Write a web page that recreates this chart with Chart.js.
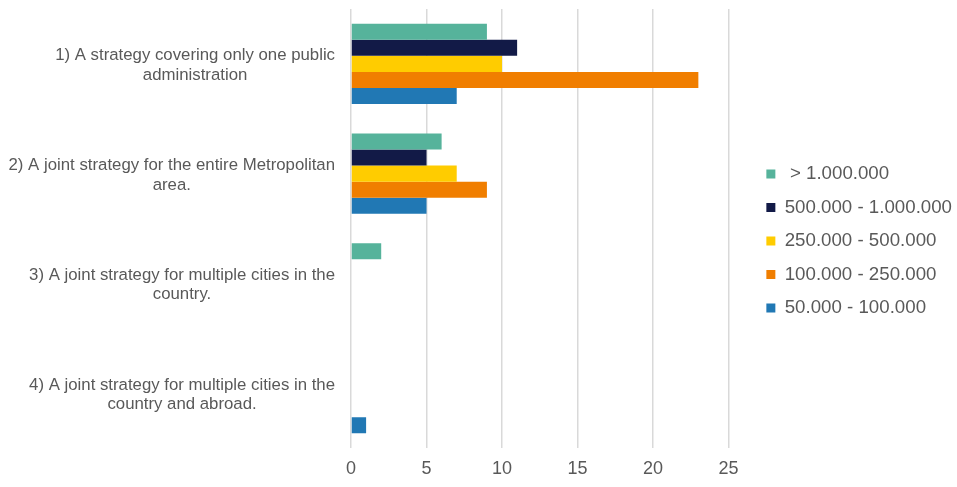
<!DOCTYPE html>
<html>
<head>
<meta charset="utf-8">
<script src="https://cdn.jsdelivr.net/npm/chart.js@4/dist/chart.umd.min.js"></script>
<style>
html,body{margin:0;padding:0;background:#fff;}
#wrap{width:957px;height:487px;position:relative;}
</style>
</head>
<body>
<div id="wrap"><canvas id="c" width="957" height="487"></canvas></div>
<script>
const categories = [
  ["1) A strategy covering only one public", "administration"],
  ["2) A joint strategy for the entire Metropolitan", "area."],
  ["3) A joint strategy for multiple cities in the", "country."],
  ["4) A joint strategy for multiple cities in the", "country and abroad."]
];
const seriesNames = [" > 1.000.000", "500.000 - 1.000.000", "250.000 - 500.000", "100.000 - 250.000", "50.000 - 100.000"];
const over1M      = [9, 6, 2, 0];
const from500k    = [11, 5, 0, 0];
const from250k    = [10, 7, 0, 0];
const from100k    = [23, 9, 0, 0];
const from50k     = [7, 5, 0, 1];
const seriesColors = ["#56B39B", "#121A47", "#FFCC00", "#F07E00", "#2178B4"];
const xTicks = [0, 5, 10, 15, 20, 25];

const seriesValues = [over1M, from500k, from250k, from100k, from50k];
const TEXT = "#595959";
const FONT = "'Liberation Sans', Arial, sans-serif";

const LEGEND_DX = 23, LEGEND_DY = -7;

const catLabelPlugin = {
  id: 'catLabels',
  afterLayout(chart) {
    const lg = chart.legend;
    if (lg) { lg.left += LEGEND_DX; lg.right += LEGEND_DX; lg.top += LEGEND_DY; lg.bottom += LEGEND_DY; }
  },
  afterDraw(chart) {
    const ys = chart.scales.y;
    const ctx = chart.ctx;
    ctx.save();
    ctx.font = "16.8px " + FONT;
    ctx.fillStyle = TEXT;
    ctx.textAlign = "center";
    ctx.textBaseline = "middle";
    const lh = 19.5;
    categories.forEach((lines, i) => {
      const y = ys.getPixelForTick(i) + 1.5;
      let widest = 0;
      lines.forEach(l => { widest = Math.max(widest, ctx.measureText(l).width); });
      const cx = ys.right - 16 - widest / 2;
      lines.forEach((l, j) => {
        ctx.fillText(l, cx, y + (j - (lines.length - 1) / 2) * lh);
      });
    });
    ctx.restore();
  }
};

new Chart(document.getElementById('c'), {
  type: 'bar',
  data: {
    labels: categories,
    datasets: seriesNames.map((n, i) => ({
      label: n,
      data: seriesValues[i],
      backgroundColor: seriesColors[i],
      borderWidth: 0,
      barPercentage: 1.0,
      categoryPercentage: 0.73
    }))
  },
  options: {
    indexAxis: 'y',
    responsive: false,
    animation: false,
    layout: { padding: { top: 9, right: 18, bottom: 0, left: 0 } },
    plugins: {
      tooltip: { enabled: false },
      legend: {
        position: 'right',
        align: 'center',
        labels: {
          color: TEXT,
          font: { size: 18.7, family: FONT },
          boxWidth: 9,
          boxHeight: 9,
          padding: 14.8
        }
      }
    },
    scales: {
      x: {
        min: 0, max: 25,
        afterBuildTicks(scale) { scale.ticks = xTicks.map(v => ({ value: v })); },
        grid: { color: "#D9D9D9", lineWidth: 1.5, drawTicks: false },
        border: { display: false },
        ticks: { color: TEXT, font: { size: 18, family: FONT }, padding: 10 },
        afterFit(scale) { scale.height = 39; }
      },
      y: {
        grid: { display: false },
        border: { display: false },
        ticks: { display: false },
        afterFit(scale) { scale.width = 351; }
      }
    }
  },
  plugins: [catLabelPlugin]
});
</script>
</body>
</html>
